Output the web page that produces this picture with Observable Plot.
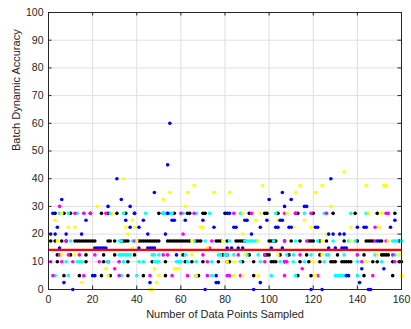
<!DOCTYPE html>
<html><head><meta charset="utf-8">
<script src="https://cdn.jsdelivr.net/npm/d3@7"></script>
<script src="https://cdn.jsdelivr.net/npm/@observablehq/plot@0.6"></script>
<style>body{margin:0;background:#fff} #chart{width:411px;height:329px}</style>
</head><body><div id="chart"></div>
<script>
// ---- data ----
const xTicks = [0, 20, 40, 60, 80, 100, 120, 140, 160];
const yTicks = [0, 10, 20, 30, 40, 50, 60, 70, 80, 90, 100];
const xLabel = "Number of Data Points Sampled";
const yLabel = "Batch Dynamic Accuracy";
const meanAccuracy = 14.3;

// each entry: [accuracy level, [data point counts at that level]]
const blackPoints = [
  [27.5, [3,7,10,19,24,27,31,35,39,50,52,57,63,64,70,71,80,91,98,99,104,112,113,120,129,139,149,157]],
  [17.5, [1,3,6,8,12,13,14,15,16,17,18,19,20,21,27,28,30,33,34,35,36,41,42,43,44,45,46,47,48,49,50,54,55,56,57,58,59,60,61,62,63,64,67,68,69,76,77,78,81,85,86,87,88,89,100,101,102,103,107,110,114,118,119,120,123,126,134,140,144,145,146,147,150,151,159]],
  [12.5, [4,10,17,25,30,39,61,79,81,91,98,99,100,105,109,117,123,131,143,151,152,153,154]],
  [10, [4,17,25,27,36,47,53,62,65,70,77,81,82,88,93,101,102,103,107,114,118,123,128,129,130,133,134,135,136,137,147,149,156,159,160]],
  [5, [7,14,24,28,36,43,53,67,68,93,113,119,143,156]]
];
const cyanPoints = [
  [27.5, [5,9,13,16,28,34,44,52,53,54,55,56,61,67,73,87,103,116,125,137,144]],
  [17.5, [10,32,33,38,66,71,82,89,90,91,92,93,94,102,112,122,129,136,139,156,157,158,160]],
  [12.5, [32,33,34,35,36,37,47,48,50,62,77,78,80,81,84,90,95,108,111,119,126,127,134,140,148,157]],
  [10, [8,13,14,15,27,32,34,41,43,48,49,50,58,59,60,63,67,74,87,96,105,111,116,125,140,151]],
  [5, [3,9,33,40,74,101,112,130,131,132,133,134,140]]
];
const magentaPoints = [
  [30, [5]],
  [27.5, [12,16,19,26,60,66,84,92,107,112,119,126,153,154]],
  [22.5, [148]],
  [20, [61]],
  [17.5, [8,39,74,107,117,148,153]],
  [15, [73]],
  [12.5, [5,9,14,21,52,54,70,86,98,114,140,156]],
  [10, [1,6,11,23,32,72,98,107,108,142,157]],
  [7.5, [30,115]],
  [5, [2,16,32,46,56,63,72,81,82,87,107,122,147]]
];
const yellowPoints = [
  [42.5, [134]],
  [40, [34]],
  [37.5, [66,97,114,124,144,152,153]],
  [35, [55,63,75,82,112,121]],
  [32.5, [52]],
  [30, [22,62,128]],
  [27.5, [6,29,88,96,108,145,151]],
  [25, [3,38,94,104,116]],
  [22.5, [9,12,35,39,69,70,103,111,119,137,150]],
  [20, [36,88,126]],
  [17.5, [4,40,65,79,95,124,137,154]],
  [15, [38,72]],
  [12.5, [6,12,65,89,104,124,149,159]],
  [10, [81,84,120,144]],
  [7.5, [26,48,57,58,59]],
  [5, [27,50,67,84,88,95,121,160]],
  [2.5, [15,49]],
  [0, [46,47]]
];
const bluePoints = [
  [60, [55]],
  [45, [54]],
  [40, [31,128]],
  [35, [48,106]],
  [32.5, [6,33,100,110]],
  [30, [27,37,107,116,117]],
  [27.5, [2,39,54,81,82]],
  [25, [17,35,43,56,57,62,70,89,90,99,105,106,157]],
  [22.5, [4,37,41,75,84,85,96,103,104,109,110,121,122,140,143,144,155]],
  [20, [1,3,8,15,45,53,92,127,129,132,134]],
  [17.5, [149]],
  [15, [5,21,22,23,24,25,26,41,45,46,47,48,81,83,86,88,101,106,127,130,133,134,135]],
  [12.5, [58]],
  [7.5, [142,152]],
  [5, [20,21,76,135,136]],
  [2.5, [7,46,76,77,96,141]],
  [0, [11,71,93,119,124,145,146]]
];

const series = [
  {color: "#000000", levels: blackPoints},
  {color: "#00ffff", levels: cyanPoints},
  {color: "#ff00ff", levels: magentaPoints},
  {color: "#ffff00", levels: yellowPoints},
  {color: "#0000ff", levels: bluePoints}
];
const flatten = levels => levels.flatMap(([y, xs]) => xs.map(x => ({x, y})));

// ---- layout ----
const W = 411, H = 329, mL = 48, mR = 10, mT = 12, mB = 40;
const pw = W - mL - mR, ph = H - mT - mB, tk = 3.5;
const ink = "#262626";
const font = "'Liberation Sans', Arial, Helvetica, sans-serif";

const chart = Plot.plot({
  width: W, height: H,
  marginLeft: mL, marginRight: mR, marginTop: mT, marginBottom: mB,
  style: {fontFamily: font, fontSize: "10.5px", color: ink, background: "#fff"},
  x: {domain: [0, 160]},
  y: {domain: [0, 100]},
  marks: [
    Plot.gridX(xTicks, {stroke: "#dfdfdf", strokeOpacity: 1}),
    Plot.gridY(yTicks, {stroke: "#dfdfdf", strokeOpacity: 1}),
    ...series.map(s => Plot.dot(flatten(s.levels), {x: "x", y: "y", r: 1.8, fill: s.color, stroke: null})),
    Plot.ruleY([meanAccuracy], {stroke: "#ff0000", strokeWidth: 2.2}),
    Plot.frame({stroke: ink}),
    Plot.tickX(xTicks, {x: d => d, insetTop: ph - tk, stroke: ink}),
    Plot.tickX(xTicks, {x: d => d, insetBottom: ph - tk, stroke: ink}),
    Plot.tickY(yTicks, {y: d => d, insetRight: pw - tk, stroke: ink}),
    Plot.tickY(yTicks, {y: d => d, insetLeft: pw - tk, stroke: ink}),
    Plot.axisX(xTicks, {tickSize: 0, tickPadding: 6, label: null, fontSize: 10.5}),
    Plot.axisY(yTicks, {tickSize: 0, tickPadding: 5, label: null, fontSize: 10.5}),
    Plot.text([xLabel], {text: d => d, frameAnchor: "bottom", dy: 28, fontSize: 11, fill: ink}),
    Plot.text([yLabel], {text: d => d, frameAnchor: "left", dx: -32, rotate: -90, fontSize: 11, fill: ink})
  ]
});
document.getElementById("chart").appendChild(chart);
</script>
</body></html>
